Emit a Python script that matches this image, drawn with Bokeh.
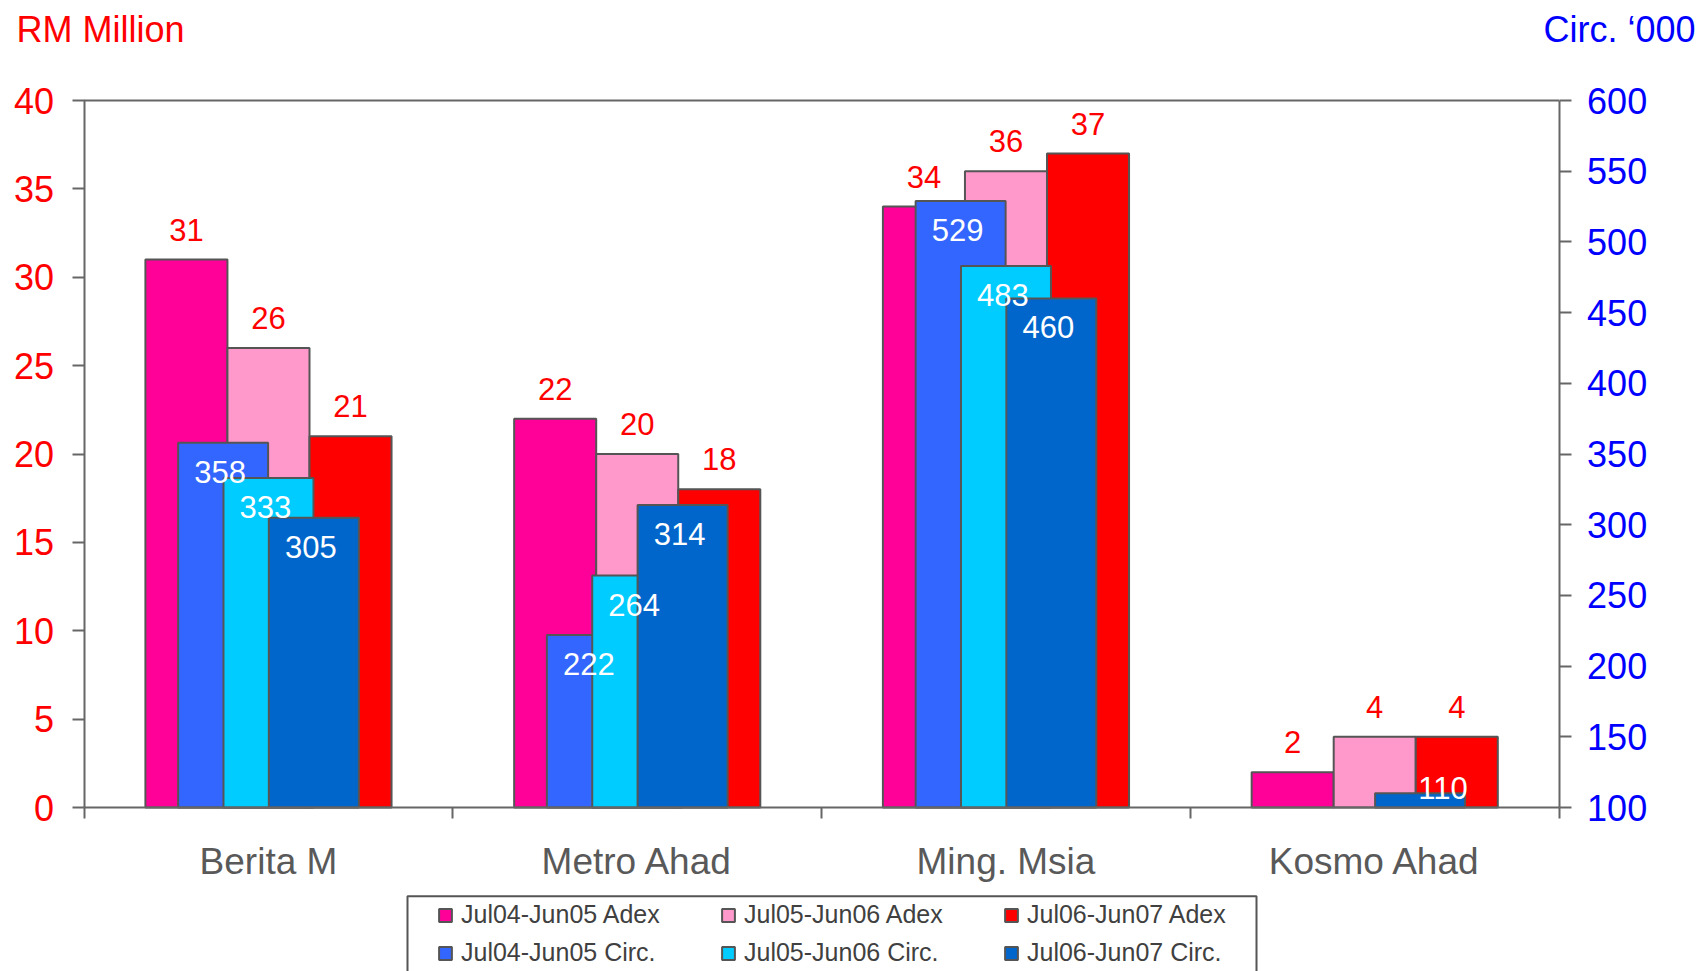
from bokeh.plotting import figure
from bokeh.models import Range1d, LinearAxis, FixedTicker, Legend, LegendItem, Label, ColumnDataSource
from bokeh.embed import file_html
from bokeh.resources import INLINE
from bokeh.core.properties import value

# ---------------- data ----------------
categories = ["Berita M", "Metro Ahad", "Ming. Msia", "Kosmo Ahad"]
adex_names = ["Jul04-Jun05 Adex", "Jul05-Jun06 Adex", "Jul06-Jun07 Adex"]
circ_names = ["Jul04-Jun05 Circ.", "Jul05-Jun06 Circ.", "Jul06-Jun07 Circ."]
adex_0405 = [31, 22, 34, 2]
adex_0506 = [26, 20, 36, 4]
adex_0607 = [21, 18, 37, 4]
circ_0405 = [358, 222, 529, None]
circ_0506 = [333, 264, 483, None]
circ_0607 = [305, 314, 460, 110]
left_ticks = [0, 5, 10, 15, 20, 25, 30, 35, 40]
right_ticks = [100, 150, 200, 250, 300, 350, 400, 450, 500, 550, 600]

# ---------------- layout / styling ----------------
W, H = 1703, 971
PLOT_L, PLOT_R, PLOT_T, PLOT_B = 83.6, 1558.6, 100.0, 807.0   # pixel box of the value area
LEG_L, LEG_R, LEG_T = 407, 1256, 895.7                        # pixel box of the legend frame
FONT = "Liberation Sans"
adex_colors = ["#FF0099", "#FF99CC", "#FF0000"]
circ_colors = ["#3366FF", "#00CCFF", "#0066CC"]
adex_offsets = [-0.2225, 0.0, 0.2225]
circ_offsets = [-0.123, 0.0, 0.123]
ADEX_W = 0.2225
CIRC_W = 0.244
EDGE = "#555555"
AXIS = "#666666"

ncat = len(categories)
x_lo, x_hi = -0.5, ncat - 0.5
l_lo, l_hi = left_ticks[0], left_ticks[-1]
r_lo, r_hi = right_ticks[0], right_ticks[-1]

# data ranges extended so that the whole canvas is the plotting frame
xpx = (PLOT_R - PLOT_L) / (x_hi - x_lo)
lpx = (PLOT_B - PLOT_T) / (l_hi - l_lo)
rpx = (PLOT_B - PLOT_T) / (r_hi - r_lo)
x_range = Range1d(x_lo - PLOT_L / xpx, x_hi + (W - PLOT_R) / xpx)
y_range = Range1d(l_lo - (H - PLOT_B) / lpx, l_hi + PLOT_T / lpx)
circ_range = Range1d(r_lo - (H - PLOT_B) / rpx, r_hi + PLOT_T / rpx)

def px_to_x(px):
    return x_lo + (px - PLOT_L) / xpx

def py_to_y(py):
    return l_lo + (PLOT_B - py) / lpx

p = figure(width=W, height=H, x_range=x_range, y_range=y_range,
           output_backend="svg", toolbar_location=None,
           min_border=0, min_border_left=0, min_border_right=0, min_border_top=0, min_border_bottom=0)
p.extra_y_ranges = {"circ": circ_range}
p.xgrid.visible = False
p.ygrid.visible = False
p.outline_line_color = None
p.background_fill_color = "white"
p.border_fill_color = "white"

# left axis
yl = p.yaxis[0]
yl.fixed_location = x_lo
yl.bounds = (l_lo, l_hi)
yl.ticker = FixedTicker(ticks=left_ticks)
yl.major_label_text_color = "#FF0000"
yl.major_label_text_font = FONT
yl.major_label_text_font_size = "36px"
yl.major_tick_out = 12
yl.major_tick_in = 0
yl.minor_tick_out = 0
yl.minor_tick_in = 0
yl.axis_line_color = AXIS
yl.axis_line_width = 2
yl.major_tick_line_color = AXIS
yl.major_tick_line_width = 2
yl.major_label_standoff = 18

# right axis
yr = LinearAxis(y_range_name="circ", ticker=FixedTicker(ticks=right_ticks))
yr.fixed_location = x_hi
yr.bounds = (r_lo, r_hi)
yr.major_label_text_color = "#0000FF"
yr.major_label_text_font = FONT
yr.major_label_text_font_size = "36px"
yr.major_tick_out = 12
yr.major_tick_in = 0
yr.minor_tick_out = 0
yr.minor_tick_in = 0
yr.axis_line_color = AXIS
yr.axis_line_width = 2
yr.major_tick_line_color = AXIS
yr.major_tick_line_width = 2
yr.major_label_standoff = 16
p.add_layout(yr, "right")

# x axis: labels at category centres, ticks at category boundaries
xa = p.xaxis[0]
xa.fixed_location = l_lo
xa.bounds = (x_lo, x_hi)
centres = list(range(ncat))
bounds = [c - 0.5 for c in centres] + [centres[-1] + 0.5]
xa.ticker = FixedTicker(ticks=centres, minor_ticks=bounds)
xa.major_label_overrides = {c: name for c, name in zip(centres, categories)}
xa.major_tick_out = 0
xa.major_tick_in = 0
xa.minor_tick_out = 11
xa.minor_tick_in = 0
xa.minor_tick_line_color = AXIS
xa.minor_tick_line_width = 2
xa.axis_line_color = AXIS
xa.axis_line_width = 2
xa.major_label_text_font = FONT
xa.major_label_text_font_size = "37px"
xa.major_label_text_color = "#595959"
xa.major_label_standoff = 22

# top border of the value area
p.segment(x0=[x_lo], y0=[l_hi], x1=[x_hi], y1=[l_hi], line_color=AXIS, line_width=2)

# legend frame
p.quad(left=[px_to_x(LEG_L)], right=[px_to_x(LEG_R)], top=[py_to_y(LEG_T)], bottom=[py_to_y(H + 20)],
       fill_color="white", line_color=EDGE, line_width=2)

legend_items = []

# Adex bars (left axis)
adex_all = [adex_0405, adex_0506, adex_0607]
for vals, name, col, off in zip(adex_all, adex_names, adex_colors, adex_offsets):
    src = ColumnDataSource(dict(x=[i + off for i in range(len(vals))], top=vals))
    r = p.vbar(x="x", top="top", bottom=l_lo, width=ADEX_W, source=src,
               fill_color=col, line_color=EDGE, line_width=2)
    legend_items.append(LegendItem(label=name, renderers=[r]))

# Circulation bars (right axis)
circ_all = [circ_0405, circ_0506, circ_0607]
circ_label_sources = []
for vals, name, col, off in zip(circ_all, circ_names, circ_colors, circ_offsets):
    xs = [i + off for i, v in enumerate(vals) if v is not None]
    tops = [v for v in vals if v is not None]
    src = ColumnDataSource(dict(x=xs, top=tops))
    r = p.vbar(x="x", top="top", bottom=r_lo, width=CIRC_W, source=src, y_range_name="circ",
               fill_color=col, line_color=EDGE, line_width=2)
    legend_items.append(LegendItem(label=name, renderers=[r]))
    small = [(v - r_lo) < 40 for v in tops]
    circ_label_sources.append(ColumnDataSource(dict(
        x=xs, y=tops, lab=[str(v) for v in tops],
        yo=[-5 if s else 29 for s in small], xo=[23 if s else -3 for s in small])))

# Adex value labels (red, above bars)
for vals, off in zip(adex_all, adex_offsets):
    src = ColumnDataSource(dict(x=[i + off for i in range(len(vals))], y=vals,
                                lab=[str(v) for v in vals]))
    p.text(x="x", y="y", text="lab", source=src, text_align="center", text_baseline="alphabetic",
           y_offset=-30, text_color="#FF0000", text_font=value(FONT), text_font_size="31px")

# Circ value labels (white, inside bars)
for src in circ_label_sources:
    p.text(x="x", y="y", text="lab", source=src, y_range_name="circ", text_align="center",
           text_baseline="alphabetic", y_offset="yo", x_offset="xo", text_color="white",
           text_font=value(FONT), text_font_size="31px")

legend = Legend(items=legend_items, location=(437, 4), orientation="horizontal", ncols=3,
                label_text_font=FONT, label_text_font_size="25px", label_text_color="#404040",
                glyph_width=16, glyph_height=16, label_standoff=8, label_width=250, label_height=28,
                spacing=9, padding=0, margin=0,
                border_line_color=None, background_fill_alpha=0.0)
p.add_layout(legend, "center")

p.add_layout(Label(x=16, y=H - 29, x_units="screen", y_units="screen", text="RM Million",
                   text_font=FONT, text_font_size="36px", text_color="#FF0000",
                   text_baseline="alphabetic"))
p.add_layout(Label(x=1543, y=H - 29, x_units="screen", y_units="screen", text="Circ. \u2018000",
                   text_font=FONT, text_font_size="36px", text_color="#0000FF",
                   text_baseline="alphabetic"))

open("out.html", "w").write(file_html(p, INLINE))
